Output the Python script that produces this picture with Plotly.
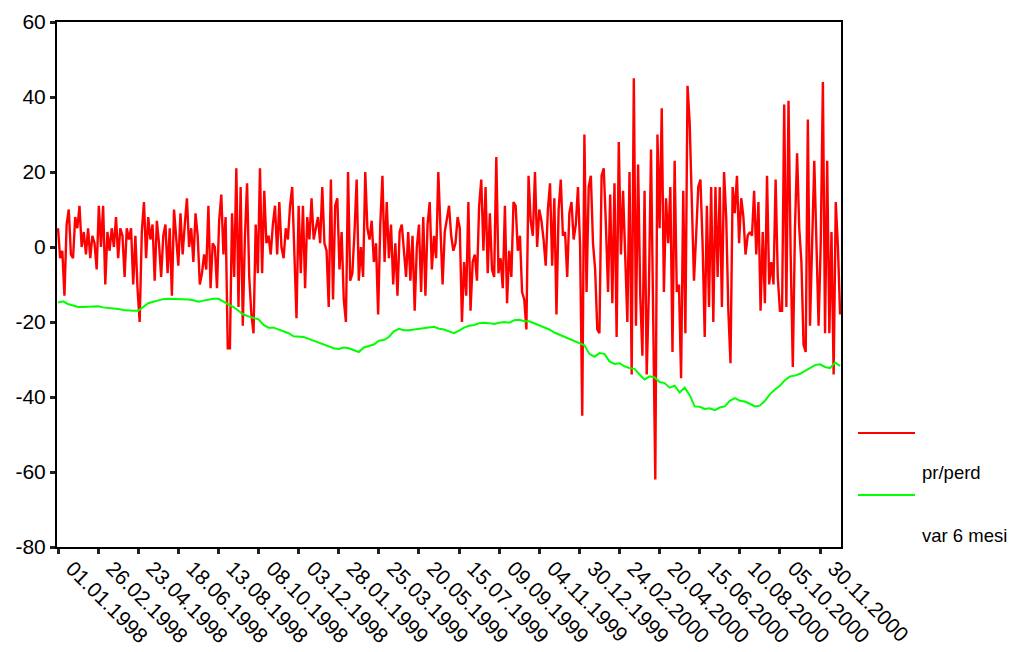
import pandas as pd
import plotly.graph_objects as go

# pr/perd: one observation every 3 days from 01.01.1998
pr_perd = [
    5, -3, -1, -13, 6, 10, -2, -3, 8, 5, 11, 0, 4, -2, 5, -3, 3, 1, -6, 11,
    0, 11, -10, 4, -1, 5, 0, 8, -3, 5, 3, -8, 5, 2, 5, -10, 3, -11, -20, 4,
    12, -3, 8, 2, 6, -9, 7, 1, -8, 3, 6, -7, 5, -13, 10, 2, -5, 9, -2, 6,
    13, 0, 5, -4, 9, 3, -10, -7, -2, -6, 11, -11, 1, 0, -11, 7, 14, -2, 8, -27,
    -27, 9, -8, 21, -16, 16, -21, 3, 17, -8, -18, -23, 6, -7, 21, -7, 15, 1, 3, -2,
    6, 11, -2, 12, 0, -3, 5, 2, 11, 16, -3, -19, 11, -7, 11, -11, 8, 2, 13, 2,
    5, 8, 1, 16, 1, -1, -16, 18, -14, 11, 13, -6, 4, -14, -20, 20, -9, -7, 4, 18,
    -9, 0, -8, 20, 5, 2, 7, -4, 1, -18, 6, 19, -4, 12, -3, 6, -10, 1, -13, 4,
    6, -2, -8, 4, -9, 3, -17, 0, 6, -12, 8, -13, 6, 12, -6, 3, -3, 20, 7, -10,
    4, 7, 11, 3, -1, 1, 8, 5, -20, -4, -13, 12, -17, -4, -2, -9, 11, 18, -1, 16,
    -7, 9, -6, -8, 24, -7, -3, -11, 11, -15, -1, -8, 12, 11, -1, 3, -12, -14, -22, 19,
    7, 3, 20, 0, 10, 7, 2, -5, 10, 17, -5, 13, -18, 10, 18, 3, 4, -8, 9, 12,
    2, 6, 16, 0, -45, 30, -12, 16, 19, 1, -6, -22, -23, 19, 21, 6, -12, 14, -15, 17,
    -24, 28, -2, 15, -4, -20, 20, -34, 45, -21, 22, -13, -29, 15, -34, -12, 26, -20, -62, 30,
    5, 37, -12, 13, 1, 16, -28, 23, -12, -10, -35, 15, -23, 43, 33, 12, -9, 3, 16, 18,
    1, -24, 11, -16, 16, -20, 16, -8, 16, -16, 20, 8, -17, -31, 16, 9, 19, 1, 13, 8,
    -2, 3, 4, 3, 15, -2, 12, -17, 4, -15, 19, -10, -4, -10, 18, -8, -17, -17, 38, -16,
    39, -2, -32, 5, 25, 5, -4, -26, -28, 34, -21, 1, 23, 1, -21, 1, 44, -23, 23, -23,
    4, -34, 12, 0, -18,
]

# var 6 mesi: weekly values from 01.01.1998
var_6_mesi = [
    -14.8, -14.5, -15.2, -15.5, -16.0, -16.0, -16.0, -16.0, -15.8, -16.1,
    -16.2, -16.4, -16.5, -16.8, -17.0, -17.0, -17.0, -16.0, -15.0, -14.6,
    -14.2, -13.9, -13.8, -13.8, -13.8, -13.8, -14.0, -14.2, -14.6, -14.3,
    -14.0, -13.8, -13.8, -14.5, -15.2, -16.0, -17.0, -18.0, -18.5, -18.8,
    -19.3, -20.8, -21.5, -21.5, -22.0, -22.6, -23.0, -23.8, -24.0, -24.0,
    -24.5, -25.0, -25.3, -26.0, -26.5, -27.0, -27.2, -26.8, -27.0, -27.5,
    -28.0, -26.8, -26.5, -26.0, -25.0, -24.8, -24.0, -22.5, -21.8, -22.2,
    -22.2, -22.0, -22.0, -21.8, -21.5, -21.3, -21.8, -22.0, -22.5, -23.0,
    -22.3, -21.5, -21.0, -20.8, -20.3, -20.2, -20.3, -20.5, -20.2, -20.0,
    -20.2, -19.5, -19.4, -19.8, -19.8, -20.3, -21.0, -21.5, -22.0, -22.8,
    -23.4, -24.0, -24.6, -25.2, -25.8, -26.2, -28.5, -29.3, -28.3, -28.5,
    -30.5, -31.2, -31.0, -31.8, -32.3, -32.5, -34.0, -35.3, -34.5, -34.8,
    -36.0, -36.3, -37.5, -37.0, -38.8, -37.5, -39.5, -42.5, -42.6, -43.2,
    -43.0, -43.5, -42.8, -42.5, -41.0, -40.3, -41.0, -41.2, -41.8, -42.5,
    -42.3, -41.0, -39.3, -38.0, -37.0, -35.5, -34.5, -34.3, -33.8, -33.0,
    -32.2, -31.5, -31.3, -32.0, -32.3, -30.8, -31.7,
]

y_ticks = [60, 40, 20, 0, -20, -40, -60, -80]
y_tick_labels = [str(v) for v in y_ticks]

dates_pr = pd.date_range("1998-01-01", periods=len(pr_perd), freq="3D")
dates_var = pd.date_range("1998-01-01", periods=len(var_6_mesi), freq="7D")
x_ticks = pd.date_range("1998-01-01", "2000-11-30", freq="56D")

FONT = "Liberation Sans, Arial, sans-serif"

fig = go.Figure()
fig.add_trace(go.Scatter(x=dates_pr, y=pr_perd, mode="lines", name="pr/perd",
                         line=dict(color="#ff0000", width=2.4)))
fig.add_trace(go.Scatter(x=dates_var, y=var_6_mesi, mode="lines", name="var 6 mesi",
                         line=dict(color="#00ff00", width=2)))

fig.update_layout(
    width=1013, height=652,
    margin=dict(l=57, r=172, t=22, b=105),
    paper_bgcolor="white", plot_bgcolor="white",
    showlegend=False,
    font=dict(family=FONT, size=18, color="black"),
)
fig.update_xaxes(
    type="date", automargin=False,
    range=["1997-12-30 14:00", "2000-12-29 07:00"],
    tickvals=x_ticks, tickformat="%d.%m.%Y",
    tickangle=45, ticklabelshift=14, ticklabelstandoff=-6,
    ticks="outside", ticklen=5, tickwidth=3, tickcolor="#222",
    showline=True, linewidth=2, linecolor="black", mirror=True,
    showgrid=False, zeroline=False,
    tickfont=dict(family=FONT, size=21, color="black"),
)
fig.update_yaxes(
    automargin=False,
    range=[-80, 60], tickvals=y_ticks, ticktext=y_tick_labels,
    ticks="outside", ticklen=5, tickwidth=3, tickcolor="#222",
    showline=True, linewidth=2, linecolor="black", mirror=True,
    showgrid=False, zeroline=False,
    tickfont=dict(family=FONT, size=21, color="black"),
)

# Legend drawn to the right of the frame: sample line, then its label below
W, H = 1013, 652
L, R, T, B = 57, 172, 22, 105
pw, ph = W - L - R, H - T - B

def px(x):
    return (x - L) / pw

def py(y):
    return 1 - (y - T) / ph

legend_items = [("pr/perd", "#ff0000", 433, 472), ("var 6 mesi", "#00ff00", 495, 535)]
for label, color, y_line, y_text in legend_items:
    fig.add_shape(type="line", xref="paper", yref="paper",
                  x0=px(858), x1=px(915), y0=py(y_line), y1=py(y_line),
                  line=dict(color=color, width=2))
    fig.add_annotation(text=label, xref="paper", yref="paper",
                       x=px(920), y=py(y_text), xanchor="left", yanchor="middle",
                       showarrow=False, font=dict(family=FONT, size=18.5, color="black"))

fig.write_html("out.html")
